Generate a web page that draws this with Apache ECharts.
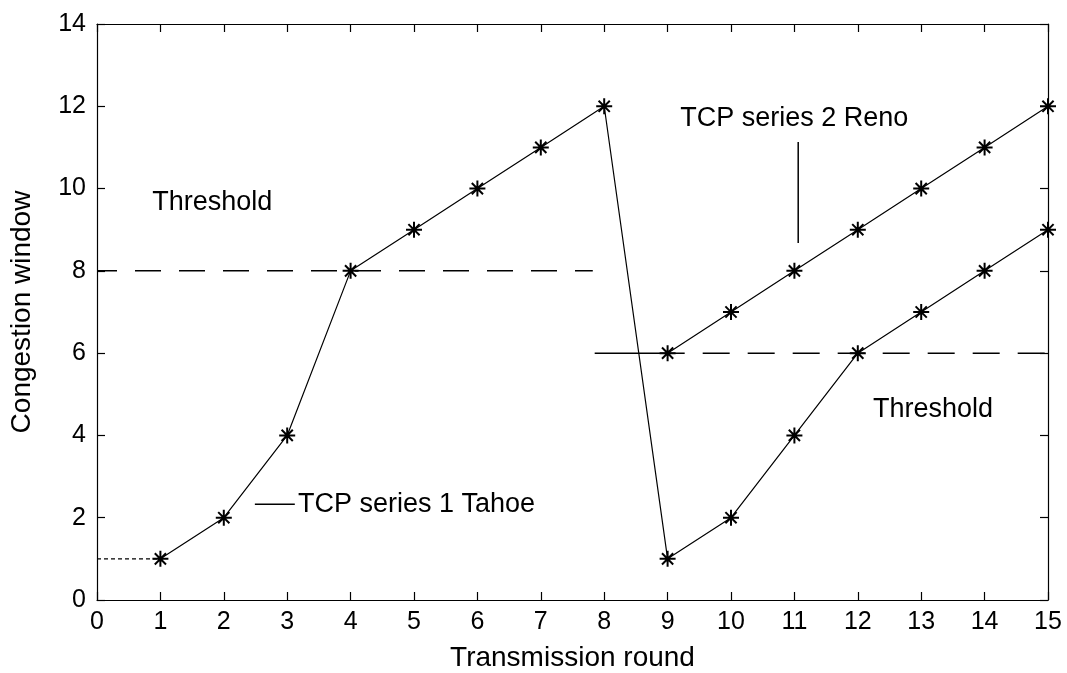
<!DOCTYPE html>
<html>
<head>
<meta charset="utf-8">
<script src="https://cdn.jsdelivr.net/npm/echarts@6/dist/echarts.min.js"></script>
<style>
html,body{margin:0;padding:0;background:#fff;}
#chart{width:1067px;height:673px;}
</style>
</head>
<body>
<div id="chart"></div>
<script>
// ---- data ----
var xTicks = [0,1,2,3,4,5,6,7,8,9,10,11,12,13,14,15];
var tahoeRounds = [1,2,3,4,5,6,7,8,9,10,11,12,13,14,15];
var tahoeWindow = [1,2,4,8,9,10,11,12,1,2,4,6,7,8,9];
var renoRounds = [9,10,11,12,13,14,15];
var renoWindow = [6,7,8,9,10,11,12];
var threshold1 = [[0,8],[7.82,8]];
var threshold2 = [[7.85,6],[15,6]];
var startDotted = [[0,1],[1,1]];
var tahoeLeader = [[2.49,2.33],[3.12,2.33]];
var renoLeader = [[11.06,11.13],[11.06,8.68]];
var annotations = [
  {x:0.87, y:9.65, text:'Threshold'},
  {x:9.2, y:11.69, text:'TCP series 2 Reno'},
  {x:3.17, y:2.33, text:'TCP series 1 Tahoe'},
  {x:12.24, y:4.62, text:'Threshold'}
];

var FONT = "'Liberation Sans', Arial, sans-serif";
var FS = 25;
var FS_TEXT = 27;
var FS_NAME = 28;

function pairs(xs, ys){ return xs.map(function(x,i){ return [x, ys[i]]; }); }

var star = 'path://M0,-10L0,10M-10,0L10,0M-7,-7L7,7M-7,7L7,-7';

var lineBase = {type:'line', symbol:'none', silent:true, animation:false, z:3};

var dash2 = [90,18];
for (var i = 0; i < 12; i++) { dash2.push(27, 18); }

var chart = echarts.init(document.getElementById('chart'), null, {renderer:'canvas'});
chart.setOption({
  backgroundColor:'#fff',
  animation:false,
  grid:{left:97, right:19, top:24, bottom:73, containLabel:false, outerBoundsMode:'none'},
  xAxis:[{
    type:'value', min:0, max:15, interval:1, position:'bottom',
    name:'Transmission round', nameLocation:'middle', nameGap:44,
    nameTextStyle:{color:'#000', fontFamily:FONT, fontSize:FS_NAME},
    axisLine:{show:true, onZero:false, lineStyle:{color:'#000', width:1.2}},
    axisTick:{show:true, inside:true, length:8, lineStyle:{color:'#000', width:1.2}},
    axisLabel:{color:'#000', fontFamily:FONT, fontSize:FS, margin:10,
      formatter:function(v){ return xTicks.indexOf(v) >= 0 ? String(v) : ''; }},
    splitLine:{show:false}
  },{
    type:'value', min:0, max:15, interval:1, position:'top',
    axisLine:{show:true, onZero:false, lineStyle:{color:'#000', width:1.2}},
    axisTick:{show:true, inside:true, length:8, lineStyle:{color:'#000', width:1.2}},
    axisLabel:{show:false}, splitLine:{show:false}
  }],
  yAxis:[{
    type:'value', min:0, max:14, interval:2, position:'left',
    name:'Congestion window', nameLocation:'middle', nameGap:61,
    nameTextStyle:{color:'#000', fontFamily:FONT, fontSize:FS_NAME},
    axisLine:{show:true, onZero:false, lineStyle:{color:'#000', width:1.2}},
    axisTick:{show:true, inside:true, length:8, lineStyle:{color:'#000', width:1.2}},
    axisLabel:{color:'#000', fontFamily:FONT, fontSize:FS, margin:11},
    splitLine:{show:false}
  },{
    type:'value', min:0, max:14, interval:2, position:'right',
    axisLine:{show:true, onZero:false, lineStyle:{color:'#000', width:1.2}},
    axisTick:{show:true, inside:true, length:8, lineStyle:{color:'#000', width:1.2}},
    axisLabel:{show:false}, splitLine:{show:false}
  }],
  series:[
    Object.assign({}, lineBase, {name:'thr1', data:threshold1,
      lineStyle:{color:'#000', width:1.5, type:[26,18], dashOffset:6}}),
    Object.assign({}, lineBase, {name:'thr2', data:threshold2,
      lineStyle:{color:'#000', width:1.5, type:dash2}}),
    Object.assign({}, lineBase, {name:'start', data:startDotted,
      lineStyle:{color:'#000', width:1.2, type:[4,3]}}),
    Object.assign({}, lineBase, {name:'leaderT', data:tahoeLeader,
      lineStyle:{color:'#000', width:1.5}}),
    Object.assign({}, lineBase, {name:'leaderR', data:renoLeader,
      lineStyle:{color:'#000', width:1.5}}),
    {type:'line', name:'Tahoe', data:pairs(tahoeRounds, tahoeWindow), z:4,
      symbol:star, symbolSize:16, showAllSymbol:true,
      itemStyle:{color:'#000', borderColor:'#000', borderWidth:2},
      lineStyle:{color:'#000', width:1.2}},
    {type:'line', name:'Reno', data:pairs(renoRounds, renoWindow), z:4,
      symbol:star, symbolSize:16, showAllSymbol:true,
      itemStyle:{color:'#000', borderColor:'#000', borderWidth:2},
      lineStyle:{color:'#000', width:1.2}},
    {type:'scatter', name:'notes', symbolSize:0, silent:true, z:5,
      itemStyle:{opacity:1},
      data:annotations.map(function(a){ return {value:[a.x, a.y], label:{formatter:a.text}}; }),
      label:{show:true, position:'right', distance:0, color:'#000', opacity:1,
        fontFamily:FONT, fontSize:FS_TEXT, align:'left', verticalAlign:'middle'}}
  ]
});
</script>
</body>
</html>
